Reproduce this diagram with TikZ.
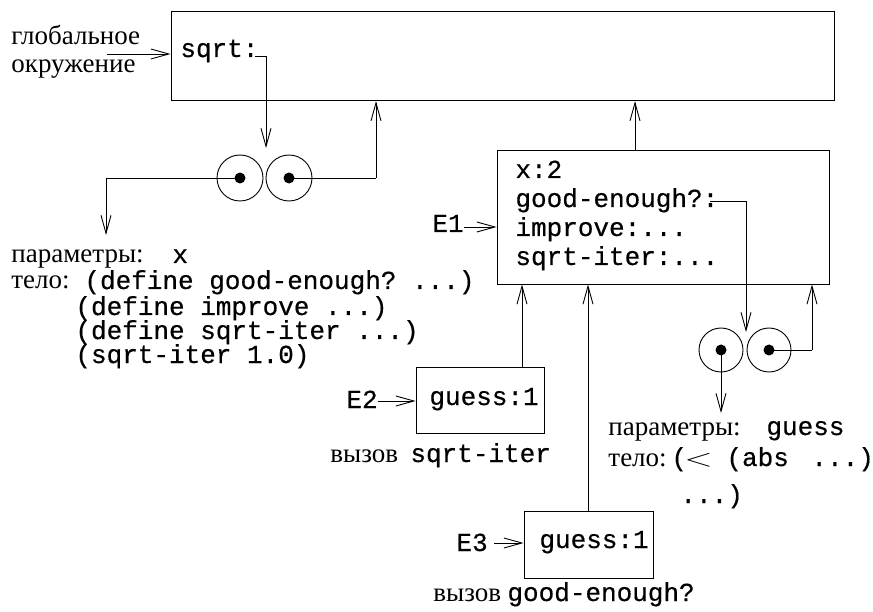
\documentclass[tikz,border=0pt]{standalone}
\usepackage{fontspec}
\usepackage{graphicx}
\setmainfont{Liberation Serif}
\setmonofont[FakeBold=0.5]{Liberation Mono}
\usetikzlibrary{arrows.meta}
\newcommand{\srf}{\fontsize{27}{30}\selectfont\rmfamily}
\newcommand{\mon}{\fontsize{26}{29}\selectfont\ttfamily}
\begin{document}
\begin{tikzpicture}[x=1pt,y=-1pt,
  line width=0.9pt,
  arr/.style={draw, -{Straight Barb[length=18pt,width=10pt]}},
  frame/.style={draw, rectangle, inner sep=0pt},
  txt/.style={anchor=base west, inner sep=0pt, text height=15pt, text depth=4pt},
  stxt/.style={txt, font=\srf},
  mtxt/.style={txt, font=\mon},
  ring/.style={draw, circle, inner sep=0pt, minimum size=46pt},
  ringb/.style={draw, circle, inner sep=0pt, minimum size=44pt},
  dot/.style={fill, circle, inner sep=0pt, minimum size=11pt}]
\useasboundingbox (0,0) rectangle (873,612);

% frames
\node[frame, minimum width=663pt, minimum height=89pt] (G) at (502.5,56.2) {};
\node[frame, minimum width=332pt, minimum height=134pt] (E1) at (663,217) {};
\node[frame, minimum width=128pt, minimum height=66pt] (E2) at (480,400) {};
\node[frame, minimum width=129pt, minimum height=67pt] (E3) at (588.5,544.5) {};

% global labels
\node[stxt] (gl1) at (11,45) {глобальное};
\node[stxt] (gl2) at (11,73) {окружение};
\node[mtxt] (sq) at (180,57) {sqrt:};

% E1 contents
\node[mtxt] (x2) at (515,178) {x:2};
\node[mtxt] (ge) at (515,207) {good-enough?:};
\node[mtxt] (imp) at (515,236) {improve:...};
\node[mtxt] (si) at (515,265) {sqrt-iter:...};
\node[mtxt] (E1lab) at (432,232) {E1};

% procedure 1
\node[ring] (c1a) at (240,178) {};
\node[ring] (c1b) at (289,178) {};
\node[dot] (d1a) at (240,178) {};
\node[dot] (d1b) at (289,178) {};
\node[stxt] (p1a) at (11,263) {параметры:};
\node[mtxt] (p1x) at (172,263) {x};
\node[stxt] (b1) at (11,289) {тело:};
\node[mtxt] (b1a) at (84,289) {(define good-enough? ...)};
\node[mtxt] (b1b) at (75,315) {(define improve ...)};
\node[mtxt] (b1c) at (75,339) {(define sqrt-iter ...)};
\node[mtxt] (b1d) at (75,363) {(sqrt-iter 1.0)};

% procedure 2
\node[ringb] (c2a) at (721,350) {};
\node[ringb] (c2b) at (769,350) {};
\node[dot] (d2a) at (721,350) {};
\node[dot] (d2b) at (769,350) {};
\node[stxt] (p2a) at (608,435) {параметры:};
\node[mtxt] (p2g) at (766,435) {guess};
\node[stxt] (b2) at (608,466) {тело:};
\node[mtxt] (b2p) at (671,466) {(};
\node[txt, font=\fontsize{26}{26}\selectfont] (b2lt) at (684,466) {\scalebox{1.5}[1]{$<$}};
\node[mtxt] (b2a) at (726,466) {(abs};
\node[mtxt] (b2c) at (811,466) {...)};
\node[mtxt] (b2b) at (680,503) {...)};

% E2, E3
\node[mtxt] (g2) at (429,405) {guess:1};
\node[mtxt] (E2lab) at (346,408) {E2};
\node[stxt] (v2) at (330,462) {вызов};
\node[mtxt] (v2b) at (410,462) {sqrt-iter};
\node[mtxt] (g3) at (539,548) {guess:1};
\node[mtxt] (E3lab) at (456,551) {E3};
\node[stxt] (v3) at (433,601) {вызов};
\node[mtxt] (v3b) at (507,601) {good-enough?};

% coordinates
\coordinate (glA) at (107,54);
\coordinate (sqA) at (255,56);
\coordinate (sqB) at (266,56);
\coordinate (sqT) at (266,148);
\coordinate (l1) at (106,178);
\coordinate (l1T) at (106,235);
\coordinate (r1) at (376,178);
\coordinate (e1t) at (635,150);
\coordinate (geA) at (710,201);
\coordinate (geB) at (746,201);
\coordinate (geT) at (746,332);
\coordinate (l2T) at (721,413);
\coordinate (r2) at (812,350);
\coordinate (e2t) at (522,367);
\coordinate (e3t) at (588,511);

% connectors
\draw[arr] (glA) -- (glA -| G.west);
\draw[arr] (sqA) -- (sqB) -- (sqT);
\draw (d1a.center) -- (l1);
\draw[arr] (l1) -- (l1T);
\draw (d1b.center) -- (r1);
\draw[arr] (r1) -- (r1 |- G.south);
\draw[arr] (e1t) -- (e1t |- G.south);
\draw[arr] ([yshift=5pt]E1lab.base east) -- ([yshift=5pt]E1lab.base east -| E1.west);
\draw[arr] (geA) -- (geB) -- (geT);
\draw[arr] (d2a.center) -- (l2T);
\draw (d2b.center) -- (r2);
\draw[arr] (r2) -- (r2 |- E1.south);
\draw[arr] (e2t) -- (e2t |- E1.south);
\draw[arr] (e3t) -- (e3t |- E1.south);
\draw[arr] ([yshift=7pt]E2lab.base east) -- ([yshift=7pt]E2lab.base east -| E2.west);
\draw[arr] ([shift={(6pt,8pt)}]E3lab.base east) -- ([yshift=8pt]E3lab.base east -| E3.west);
\end{tikzpicture}
\end{document}
